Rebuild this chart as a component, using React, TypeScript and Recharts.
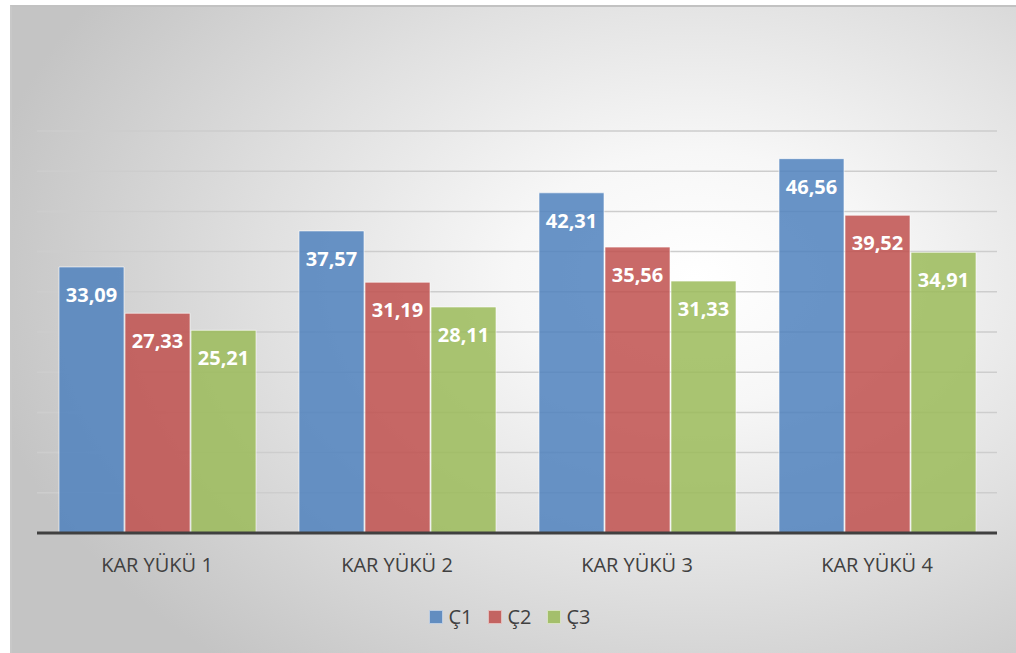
import { BarChart, Bar, XAxis, YAxis, CartesianGrid, Legend, LabelList } from 'recharts'

const categories = ['KAR YÜKÜ 1', 'KAR YÜKÜ 2', 'KAR YÜKÜ 3', 'KAR YÜKÜ 4']
const c1Values = [33.09, 37.57, 42.31, 46.56]
const c2Values = [27.33, 31.19, 35.56, 39.52]
const c3Values = [25.21, 28.11, 31.33, 34.91]
const yTicks = [0, 5, 10, 15, 20, 25, 30, 35, 40, 45, 50]

const seriesList = [
  { key: 'c1', name: 'Ç1', color: '#4f81bd' },
  { key: 'c2', name: 'Ç2', color: '#c0504d' },
  { key: 'c3', name: 'Ç3', color: '#9bbb59' },
]

const chartData = categories.map((cat, i) => ({
  cat,
  c1: c1Values[i],
  c2: c2Values[i],
  c3: c3Values[i],
}))

const FONT = '"Open Sans", "Noto Sans", sans-serif'

const fmt = (v: number) => v.toFixed(2).replace('.', ',')

function ValueLabel(props: any) {
  const { x, y, width, value } = props
  return (
    <text
      x={x + width / 2}
      y={y + 35}
      textAnchor="middle"
      fill="#ffffff"
      fontFamily={FONT}
      fontWeight={700}
      fontSize={20}
    >
      {fmt(Number(value))}
    </text>
  )
}

function LegendContent() {
  return (
    <div style={{ position: 'relative', top: 10, display: 'flex', justifyContent: 'center', alignItems: 'center' }}>
      {seriesList.map(s => (
        <div key={s.key} style={{ display: 'flex', alignItems: 'center', width: 59 }}>
          <span
            style={{
              width: 12,
              height: 12,
              background: s.color,
              opacity: 0.85,
              border: '1px solid rgba(255,255,255,0.6)',
              marginRight: 6,
            }}
          />
          <span style={{ fontFamily: FONT, fontSize: 20, color: '#404040' }}>{s.name}</span>
        </div>
      ))}
    </div>
  )
}

export default function App() {
  return (
    <div style={{ position: 'absolute', left: 0, top: 0, width: 1016, height: 653, background: '#ffffff' }}>
      <div
        style={{
          position: 'absolute',
          left: 10,
          top: 5,
          width: 1006,
          height: 648,
          boxSizing: 'border-box',
          borderTop: '2px solid #c2c2c2',
          borderLeft: '2px solid #c8c8c8',
          background:
            'radial-gradient(ellipse 72% 78% at 68% 42%, #ffffff 0%, #f7f7f7 25%, #e0e0e0 60%, #c4c4c4 100%)',
        }}
      />
      <div style={{ position: 'absolute', left: 0, top: 0 }}>
        <BarChart
          width={1016}
          height={653}
          data={chartData}
          margin={{ top: 131, right: 19, left: 37, bottom: 0 }}
          barSize={65}
          barGap={1}
        >
          <CartesianGrid vertical={false} stroke="#cdcdcd" strokeWidth={1.5} />
          <YAxis hide domain={[0, 50]} ticks={yTicks} />
          <XAxis
            dataKey="cat"
            height={60}
            axisLine={{ stroke: '#404040', strokeWidth: 3 }}
            tickLine={false}
            tickMargin={19}
            tick={{ fontFamily: FONT, fontSize: 20, fill: '#404040' }}
          />
          <Legend verticalAlign="bottom" height={60} content={<LegendContent />} />
          {seriesList.map(s => (
            <Bar
              key={s.key}
              dataKey={s.key}
              name={s.name}
              fill={s.color}
              fillOpacity={0.85}
              stroke="#ffffff"
              strokeOpacity={0.6}
              strokeWidth={1}
              isAnimationActive={false}
            >
              <LabelList dataKey={s.key} content={<ValueLabel />} />
            </Bar>
          ))}
        </BarChart>
      </div>
    </div>
  )
}
